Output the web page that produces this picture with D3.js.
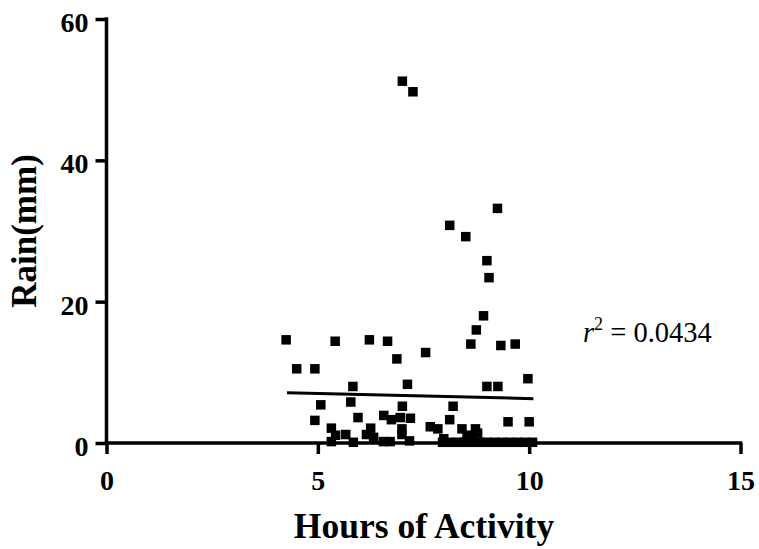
<!DOCTYPE html>
<html>
<head>
<meta charset="utf-8">
<script src="https://cdn.jsdelivr.net/npm/d3@7"></script>
<style>
  html, body { margin: 0; padding: 0; background: #fff; }
  svg { display: block; }
  text { font-family: "Liberation Serif", "Times New Roman", serif; }
</style>
</head>
<body>
<svg id="chart" width="759" height="549"></svg>
<script>
// Hours of activity (x) against rainfall in mm (y), one pair per observation
const hours = [
  4.25, 4.50, 4.93, 5.41, 5.07, 4.93, 5.32, 5.42, 5.32, 5.66,
  5.83, 5.78, 5.95, 5.84, 6.22, 6.65, 6.87, 7.55, 7.12, 7.00,
  6.15, 6.25, 6.32, 6.56, 6.74, 6.95, 7.19, 6.99, 6.99, 6.55,
  6.71, 7.17, 7.66, 7.84, 7.00, 7.25, 9.25, 8.12, 8.50, 9.00,
  9.05, 8.92, 8.75, 8.62, 9.33, 9.67, 9.97, 9.00, 9.26, 8.20,
  8.12, 8.41, 8.73, 8.67, 9.50, 10.00,
  7.95, 8.12, 8.30, 8.47, 8.64, 8.82, 9.00, 9.18, 9.36, 9.54,
  9.72, 9.90, 10.08, 8.53, 8.78, 7.98
];
const rain = [
  14.6, 10.5, 10.5, 14.4, 5.4, 3.2, 2.1, 1.1, 0.2, 1.2,
  8.0, 5.8, 3.6, 0.1, 14.6, 14.4, 11.9, 12.8, 8.3, 5.2,
  1.2, 2.1, 0.8, 3.9, 3.3, 3.6, 3.5, 2.0, 1.2, 0.2,
  0.2, 0.3, 2.3, 2.0, 51.2, 49.7, 33.2, 30.8, 29.2, 25.8,
  23.4, 18.0, 16.0, 14.0, 13.8, 14.0, 9.1, 8.0, 8.0, 5.2,
  3.3, 2.0, 2.0, 0.9, 3.0, 3.0,
  0.1, 0.1, 0.1, 0.1, 0.1, 0.1, 0.1, 0.1, 0.1, 0.1,
  0.1, 0.1, 0.1, 1.1, 1.4, 0.6
];

// Linear fit drawn across the observed range of hours
const fitHours = [4.27, 10.1];
const fitRain = [7.12, 6.27];
const rSquared = "0.0434";

const xTicks = [0, 5, 10, 15];
const yTicks = [0, 20, 40, 60];
const xTitle = "Hours of Activity";
const yTitle = "Rain(mm)";

const svg = d3.select("#chart");
svg.append("rect").attr("width", 759).attr("height", 549).attr("fill", "#fff");

const x = d3.scaleLinear().domain([0, 15]).range([106.5, 740.5]);
const y = d3.scaleLinear().domain([0, 60]).range([443, 19]);

const axisW = 3.5;

// X axis
const gx = svg.append("g")
  .attr("transform", `translate(0,${y(0)})`)
  .call(d3.axisBottom(x).tickValues(xTicks).tickFormat(d3.format("d"))
    .tickSize(11).tickSizeOuter(0));
gx.select(".domain").attr("stroke", "#000").attr("stroke-width", axisW)
  .attr("d", `M${x(0) - axisW / 2},0H${x(15) + axisW / 2}`);
gx.selectAll(".tick line").attr("stroke", "#000").attr("stroke-width", axisW);
gx.selectAll(".tick text")
  .attr("y", 47).attr("dy", null)
  .attr("fill", "#000")
  .style("font-family", "'Liberation Serif', serif")
  .style("font-weight", "bold").style("font-size", "28px");

// Y axis
const gy = svg.append("g")
  .attr("transform", `translate(${x(0)},0)`)
  .call(d3.axisLeft(y).tickValues(yTicks).tickFormat(d3.format("d"))
    .tickSize(11).tickSizeOuter(0));
gy.select(".domain").attr("stroke", "#000").attr("stroke-width", axisW)
  .attr("d", `M0,${y(60) - axisW / 2}V${y(0) + axisW / 2}`);
gy.selectAll(".tick line").attr("stroke", "#000").attr("stroke-width", axisW);
gy.selectAll(".tick text")
  .attr("x", -18).attr("dy", "0.45em")
  .attr("fill", "#000")
  .style("font-family", "'Liberation Serif', serif")
  .style("font-weight", "bold").style("font-size", "28px");

// Axis titles
svg.append("text")
  .attr("x", 424).attr("y", 538)
  .attr("text-anchor", "middle")
  .style("font-weight", "bold").style("font-size", "35.5px")
  .text(xTitle);

svg.append("text")
  .attr("transform", `translate(36,231) rotate(-90)`)
  .attr("text-anchor", "middle")
  .style("font-weight", "bold").style("font-size", "35px")
  .text(yTitle);

// Data points
const pts = hours.map((h, i) => ({ h, r: rain[i] }));
const m = 9.5;
svg.append("g").selectAll("rect")
  .data(pts)
  .join("rect")
  .attr("x", d => x(d.h) - m / 2)
  .attr("y", d => y(d.r) - m / 2)
  .attr("width", m).attr("height", m)
  .attr("fill", "#000");

// Fitted line
svg.append("path")
  .datum(fitHours.map((h, i) => [h, fitRain[i]]))
  .attr("fill", "none").attr("stroke", "#000").attr("stroke-width", 3)
  .attr("d", d3.line().x(d => x(d[0])).y(d => y(d[1])));

// Goodness of fit label
const lab = svg.append("text")
  .attr("x", 583).attr("y", 342)
  .style("font-size", "28.5px").attr("fill", "#000");
lab.append("tspan").style("font-style", "italic").text("r");
lab.append("tspan").attr("dy", -12).style("font-size", "18px").text("2");
lab.append("tspan").attr("dy", 12).text(" = " + rSquared);
</script>
</body>
</html>
